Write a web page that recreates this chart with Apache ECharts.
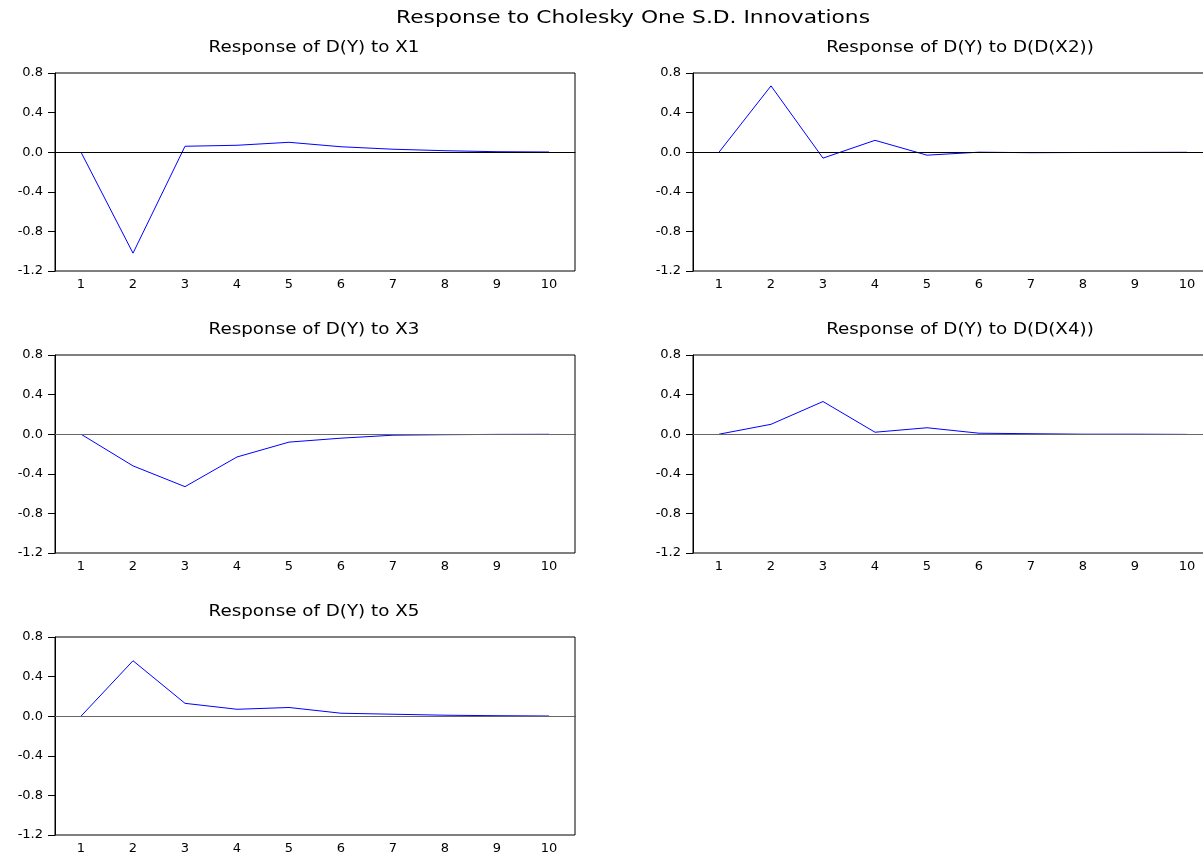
<!DOCTYPE html>
<html>
<head>
<meta charset="utf-8">
<title>Response to Cholesky One S.D. Innovations</title>
<script src="https://cdn.jsdelivr.net/npm/echarts@6/dist/echarts.min.js"></script>
<style>
	html, body { margin: 0; padding: 0; background: #fff; }
	#main { width: 1203px; height: 852px; }
</style>
</head>
<body>
<div id="main"></div>
<script>
	// periods 1..10
	var periods = ['1', '2', '3', '4', '5', '6', '7', '8', '9', '10'];
	var yTicks = [-1.2, -0.8, -0.4, 0.0, 0.4, 0.8];

	// responses of D(Y)
	var respX1 = [0, -1.02, 0.06, 0.07, 0.10, 0.055, 0.03, 0.015, 0.005, 0.002];
	var respX2 = [0, 0.67, -0.06, 0.12, -0.03, 0.0, -0.005, -0.003, -0.002, -0.001];
	var respX3 = [0, -0.32, -0.53, -0.23, -0.08, -0.04, -0.01, -0.005, -0.002, -0.001];
	var respX4 = [0, 0.10, 0.33, 0.02, 0.065, 0.01, 0.005, 0.0, 0.0, -0.002];
	var respX5 = [0, 0.56, 0.13, 0.07, 0.088, 0.03, 0.02, 0.01, 0.005, 0.002];

	var titles = ['Response of D(Y) to X1', 'Response of D(Y) to D(D(X2))', 'Response of D(Y) to X3',
		'Response of D(Y) to D(D(X4))', 'Response of D(Y) to X5'];
	var allData = [respX1, respX2, respX3, respX4, respX5];

	var FONT = 'DejaVu Sans';
	// plot boxes: left, top, title centre x  (each 520 x 198)
	var boxes = [[55, 73, 314], [693, 73, 960], [55, 355, 314], [693, 355, 960], [55, 637, 314]];
	var zeroColor = ['#000', '#000', '#666', '#666', '#666'];

	var grids = [], xAxes = [], yAxes = [], series = [], texts = [];

	boxes.forEach(function (b, i) {
		grids.push({
			left: b[0], top: b[1], width: 520, height: 198,
			show: true, borderColor: '#000', borderWidth: 1,
			outerBoundsMode: 'none', // right column runs past the page edge
			containLabel: false
		});
		xAxes.push({
			type: 'category', gridIndex: i, data: periods, boundaryGap: true,
			axisLine: { lineStyle: { color: '#000', width: 1 } },
			axisTick: { length: 5, lineStyle: { color: '#000' } },
			axisLabel: { color: '#000', fontFamily: FONT, fontSize: 13, margin: 7, interval: 0 },
			splitLine: { show: false }
		});
		yAxes.push({
			type: 'value', gridIndex: i, min: yTicks[0], max: yTicks[yTicks.length - 1], interval: 0.4,
			axisLine: { show: true, lineStyle: { color: '#000', width: 1 } },
			axisTick: { show: true, length: 7, lineStyle: { color: '#000' } },
			axisLabel: {
				color: '#000', fontFamily: FONT, fontSize: 13, margin: 12,
				formatter: function (v) { return v.toFixed(1); }
			},
			splitLine: { show: false }
		});
		series.push({
			type: 'line', xAxisIndex: i, yAxisIndex: i, data: allData[i],
			symbol: 'none', lineStyle: { color: '#0000ff', width: 1 },
			markLine: {
				silent: true, symbol: 'none', label: { show: false },
				lineStyle: { color: zeroColor[i], width: 1, type: 'solid' },
				data: [{ yAxis: 0 }]
			},
			z: 3
		});
		texts.push({
			type: 'text', x: b[2], y: b[1] - 25, scaleX: 1.22,
			style: { text: titles[i], fill: '#000', font: '15px "' + FONT + '"', textAlign: 'center', textVerticalAlign: 'middle' }
		});
	});

	texts.push({
		type: 'text', x: 633, y: 19, scaleX: 1.28,
		style: { text: 'Response to Cholesky One S.D. Innovations', fill: '#000', font: '17px "' + FONT + '"', textAlign: 'center', textVerticalAlign: 'middle' }
	});

	var myChart = echarts.init(document.getElementById('main'));
	var option = {
		animation: false,
		backgroundColor: '#fff',
		grid: grids,
		xAxis: xAxes,
		yAxis: yAxes,
		series: series,
		graphic: texts
	};
	myChart.setOption(option);
</script>
</body>
</html>
